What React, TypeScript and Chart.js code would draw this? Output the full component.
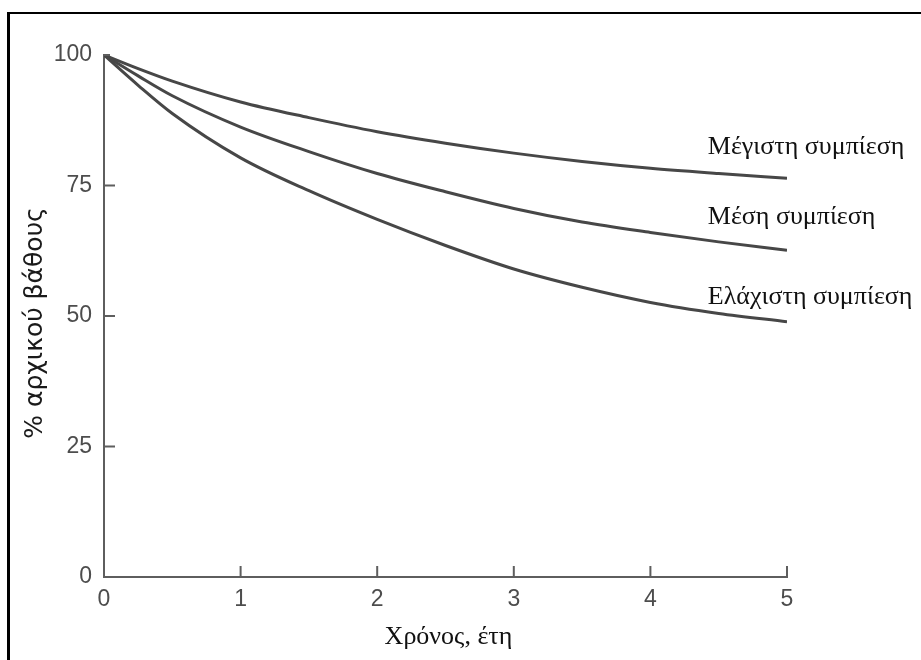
import React, { useEffect, useRef } from "react";
import { Chart, registerables } from "chart.js";

Chart.register(...registerables);

// ---- data ----
const years = [0, 0.25, 0.5, 1, 1.5, 2, 2.5, 3, 3.5, 4, 4.5, 5];
const maxCompression = [100, 97.4, 95.0, 91, 88, 85.3, 83.1, 81.2, 79.6, 78.3, 77.3, 76.4];
const midCompression = [100, 96.0, 92.2, 86.2, 81.5, 77.3, 73.8, 70.6, 68, 66, 64.2, 62.6];
const minCompression = [100, 94.2, 88.8, 80.3, 74, 68.5, 63.5, 59, 55.5, 52.6, 50.5, 48.9];
const seriesLabels = ["Μέγιστη συμπίεση", "Μέση συμπίεση", "Ελάχιστη συμπίεση"];
const xTickValues = [0, 1, 2, 3, 4, 5];
const yTickValues = [0, 25, 50, 75, 100];
const xTitle = "Χρόνος, έτη";
const yTitle = "% αρχικού βάθους";

// ---- layout / style ----
const W = 921;
const H = 660;
const LINE_COLOR = "#474747";
const AXIS_COLOR = "#5e5e5e";
const TICK_COLOR = "#4d4d4d";
const labelX = 4.42;
const labelDy = [-31, -33, -25];

const overlayPlugin = {
  id: "overlay",
  afterDraw(chart: any) {
    const ctx = chart.ctx;
    const xs = chart.scales.x;
    const ys = chart.scales.y;
    const area = chart.chartArea;
    ctx.save();
    // inward tick marks
    ctx.strokeStyle = AXIS_COLOR;
    ctx.lineWidth = 2;
    ctx.beginPath();
    yTickValues.forEach((v) => {
      if (v === 0) return;
      const py = ys.getPixelForValue(v);
      ctx.moveTo(area.left, py);
      ctx.lineTo(area.left + (v === 100 ? 6 : 11), py);
    });
    xTickValues.forEach((v) => {
      if (v === 0) return;
      const px = xs.getPixelForValue(v);
      ctx.moveTo(px, area.bottom);
      ctx.lineTo(px, area.bottom - 11);
    });
    ctx.stroke();

    // series labels
    ctx.fillStyle = "#111";
    ctx.font = "26px 'Liberation Serif'";
    ctx.textAlign = "left";
    ctx.textBaseline = "middle";
    const ends = [maxCompression, midCompression, minCompression].map((s) => s[s.length - 1]);
    seriesLabels.forEach((t, i) => {
      const px = xs.getPixelForValue(labelX);
      const py = ys.getPixelForValue(ends[i]) + labelDy[i];
      ctx.fillText(t, px, py);
    });

    // axis titles
    ctx.fillStyle = "#111";
    ctx.font = "26px 'Liberation Serif'";
    ctx.textAlign = "center";
    ctx.fillText(xTitle, xs.getPixelForValue(2.5) + 3, 637);

    ctx.translate(35, 323);
    ctx.rotate(-Math.PI / 2);
    ctx.font = "25px 'DejaVu Sans'";
    ctx.fillStyle = "#1a1a1a";
    ctx.fillText(yTitle, 0, 0);
    ctx.restore();
  },
};

export default function App() {
  const ref = useRef<HTMLCanvasElement | null>(null);

  useEffect(() => {
    if (!ref.current) return;
    const mk = (vals: number[]) => years.map((x, i) => ({ x, y: vals[i] }));
    const common = {
      borderColor: LINE_COLOR,
      borderWidth: 3,
      pointRadius: 0,
      cubicInterpolationMode: "monotone" as const,
      fill: false,
    };
    const chart = new Chart(ref.current, {
      type: "line",
      data: {
        datasets: [
          { label: seriesLabels[0], data: mk(maxCompression), ...common },
          { label: seriesLabels[1], data: mk(midCompression), ...common },
          { label: seriesLabels[2], data: mk(minCompression), ...common },
        ],
      },
      options: {
        animation: false,
        responsive: false,
        devicePixelRatio: 1,
        layout: { padding: { left: 0, top: 55, right: W - 787, bottom: 0 } },
        plugins: { legend: { display: false }, tooltip: { enabled: false } },
        scales: {
          x: {
            type: "linear",
            min: 0,
            max: 5,
            afterFit: (s: any) => {
              s.height = H - 577;
            },
            border: { display: true, color: AXIS_COLOR, width: 2 },
            grid: { display: false, drawTicks: false },
            ticks: {
              stepSize: 1,
              padding: 9,
              color: TICK_COLOR,
              font: { family: "'Liberation Sans'", size: 23 },
            },
          },
          y: {
            type: "linear",
            min: 0,
            max: 100,
            afterFit: (s: any) => {
              s.width = 104;
            },
            border: { display: true, color: AXIS_COLOR, width: 2 },
            grid: { display: false, drawTicks: false },
            ticks: {
              stepSize: 25,
              padding: 12,
              color: TICK_COLOR,
              font: { family: "'Liberation Sans'", size: 23 },
            },
          },
        },
      },
      plugins: [overlayPlugin],
    });
    return () => chart.destroy();
  }, []);

  return (
    <div
      style={{
        position: "absolute",
        left: 0,
        top: 0,
        width: W,
        height: H,
        background: "#fff",
        overflow: "hidden",
      }}
    >
      <div
        style={{
          position: "absolute",
          left: 7,
          top: 12,
          width: W + 40,
          height: H + 40,
          borderLeft: "3px solid #000",
          borderTop: "2px solid #000",
        }}
      />
      <canvas
        ref={ref}
        width={W}
        height={H}
        style={{ position: "absolute", left: 0, top: 0, width: W, height: H }}
      />
    </div>
  );
}
